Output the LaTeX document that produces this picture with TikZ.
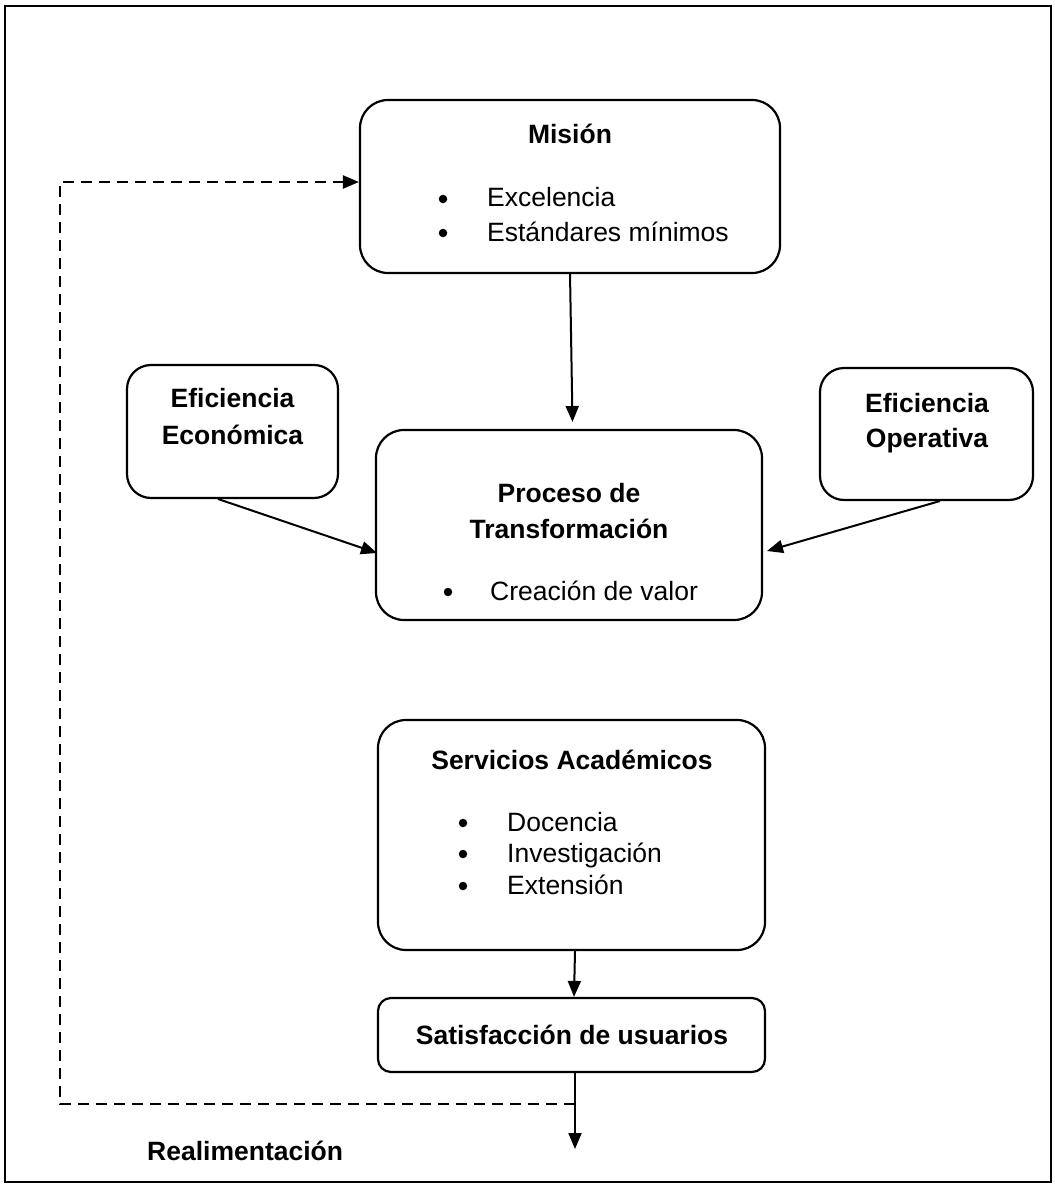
\documentclass[tikz,border=0pt]{standalone}
\usepackage{fontspec}
\setmainfont{Liberation Sans}
\usetikzlibrary{arrows.meta}

\begin{document}
\begin{tikzpicture}[x=1pt, y=-1pt,
  box/.style={draw, line width=2.2pt, rounded corners=#1, inner sep=0pt},
  box/.default=28pt,
  txt/.style={inner sep=0pt, font=\fontsize{26.5}{32}\selectfont},
  btxt/.style={txt, font=\fontsize{26.5}{32}\selectfont\bfseries},
  dot/.style={circle, fill, inner sep=0pt, minimum size=8.5pt},
  flow/.style={line width=2pt, -{Triangle[length=16pt, width=13pt]}},
  back/.style={line width=2.2pt, dash pattern=on 11pt off 7pt, -{Triangle[length=16pt, width=13pt]}}]

  % frame
  \useasboundingbox (0,0) rectangle (1054,1185);
  \draw[line width=2.2pt] (5,6) rectangle (1051,1182);

  % boxes
  \node[box, minimum width=420pt, minimum height=173pt] (mision) at (570,186.5) {};
  \node[box=24pt, minimum width=211pt, minimum height=133pt] (econ) at (232.5,431.5) {};
  \node[box=24pt, minimum width=213pt, minimum height=132pt] (oper) at (926.5,434) {};
  \node[box, minimum width=386pt, minimum height=190pt] (proc) at (569,525) {};
  \node[box, minimum width=387pt, minimum height=230pt] (serv) at (571.5,835) {};
  \node[box=13pt, minimum width=387pt, minimum height=74pt] (sat) at (571.5,1035) {};

  % Mision
  \node[btxt, anchor=base] (t1) at (570,144) {Misión};
  \node[dot] (b1) at (443,199) {};
  \node[txt, anchor=base west] (t2) at (487,207) {Excelencia};
  \node[dot] (b2) at (443,233) {};
  \node[txt, anchor=base west] (t3) at (487,241) {Estándares mínimos};

  % Eficiencia economica / operativa
  \node[btxt, anchor=base] (t4) at (232.5,407) {Eficiencia};
  \node[btxt, anchor=base] (t5) at (232.5,444) {Económica};
  \node[btxt, anchor=base] (t6) at (927,412) {Eficiencia};
  \node[btxt, anchor=base] (t7) at (927,447) {Operativa};

  % Proceso de transformacion
  \node[btxt, anchor=base] (t8) at (569,502) {Proceso de};
  \node[btxt, anchor=base] (t9) at (569,538) {Transformación};
  \node[dot] (b3) at (448,592) {};
  \node[txt, anchor=base west] (t10) at (490,600) {Creación de valor};

  % Servicios academicos
  \node[btxt, anchor=base] (t11) at (572,769) {Servicios Académicos};
  \node[dot] (b4) at (463,823) {};
  \node[txt, anchor=base west] (t12) at (507,831) {Docencia};
  \node[dot] (b5) at (463,854) {};
  \node[txt, anchor=base west] (t13) at (507,862) {Investigación};
  \node[dot] (b6) at (463,886) {};
  \node[txt, anchor=base west] (t14) at (507,894) {Extensión};

  % Satisfaccion
  \node[btxt, anchor=base] (t15) at (572,1044) {Satisfacción de usuarios};
  \node[btxt, anchor=base west] (t16) at (147,1160) {Realimentación};

  % connectors
  \coordinate (m1) at (570,273);
  \coordinate (m2) at (572.5,422);
  \draw[flow] (m1) -- (m2);

  \coordinate (e1) at (218,499);
  \coordinate (e2) at (377,553);
  \draw[flow] (e1) -- (e2);

  \coordinate (o1) at (940,501);
  \coordinate (o2) at (767,551);
  \draw[flow] (o1) -- (o2);

  \draw[flow] (serv.south -| 575,0) -- (sat.north -| 574,0);

  \coordinate (out) at (575,1149);
  \draw[flow] (sat.south -| out) -- (out);

  \coordinate (fb0) at (575,1104);
  \coordinate (fb1) at (60,1104);
  \coordinate (fb2) at (60,182);
  \draw[back] (fb0) -- (fb1) -- (fb2) -- (mision.west |- fb2);
\end{tikzpicture}
\end{document}
